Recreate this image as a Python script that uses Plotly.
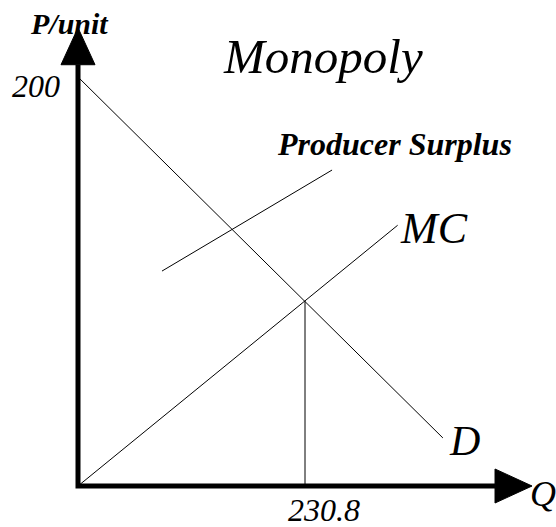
import plotly.graph_objects as go

# demand and marginal cost (Q, P)
demand_q = [0, 371]
demand_p = [200, 23.5]
mc_q = [0, 325]
mc_p = [0, 127.5]

q_star = 230.8
p_star = 90.4

# pointer line for the producer surplus label
ps_q = [85.4, 258.3]
ps_p = [105.1, 154.5]

p_label = 200
q_label = 230.8

# axis extents (data units)
q_axis_end = 424
p_axis_end = 206

W, H = 556, 527
x_rng = [-79.3, 486.0]
y_rng = [-20.05, 237.65]
kx = W / (x_rng[1] - x_rng[0])   # px per Q unit
ky = H / (y_rng[1] - y_rng[0])   # px per P unit


def px(xp, yp):
    # pixel position -> data position
    return x_rng[0] + xp / kx, y_rng[1] - yp / ky


serif = "Liberation Serif, Times New Roman, serif"

fig = go.Figure()

thin = dict(color="black", width=1)
fig.add_trace(go.Scatter(x=demand_q, y=demand_p, mode="lines", line=thin))
fig.add_trace(go.Scatter(x=mc_q, y=mc_p, mode="lines", line=thin))
fig.add_trace(go.Scatter(x=[q_star, q_star], y=[0, p_star], mode="lines", line=thin))
fig.add_trace(go.Scatter(x=ps_q, y=ps_p, mode="lines", line=thin))

# axes
fig.add_trace(go.Scatter(x=[0, 0, q_axis_end], y=[p_axis_end, 0, 0], mode="lines",
                         line=dict(color="black", width=5)))

# arrow heads
head_len, head_half = 37, 17
fig.add_trace(go.Scatter(
    x=[-head_half / kx, head_half / kx, 0, -head_half / kx],
    y=[p_axis_end, p_axis_end, p_axis_end + head_len / ky, p_axis_end],
    mode="lines", fill="toself", fillcolor="black", line=dict(color="black", width=1)))
fig.add_trace(go.Scatter(
    x=[q_axis_end, q_axis_end, q_axis_end + head_len / kx, q_axis_end],
    y=[-head_half / ky, head_half / ky, 0, -head_half / ky],
    mode="lines", fill="toself", fillcolor="black", line=dict(color="black", width=1)))


def label(text, xp, yp, size, bold=False, xanchor="center"):
    x, y = px(xp, yp)
    fig.add_annotation(x=x, y=y, text=text, showarrow=False, xanchor=xanchor, yanchor="middle",
                       font=dict(family=serif, size=size, color="black", style="italic",
                                 weight="bold" if bold else "normal"))


label("Monopoly", 323, 56, 49)
label("Producer Surplus", 394, 144, 32, bold=True)
label("MC", 434, 228, 44)
label("D", 464, 441, 42)
label("Q", 528, 494, 36, xanchor="left")
label(str(q_label), 324, 510, 32)
label(str(p_label), 36, 86, 32)
label("P/unit", 69, 23, 30, bold=True)

fig.update_layout(
    width=W, height=H,
    margin=dict(l=0, r=0, t=0, b=0),
    paper_bgcolor="white", plot_bgcolor="white",
    showlegend=False,
    xaxis=dict(range=x_rng, visible=False, fixedrange=True),
    yaxis=dict(range=y_rng, visible=False, fixedrange=True),
)

# page margin off so the figure sits at the window corner
fig.write_html("out.html", config={"displayModeBar": False},
               post_script="document.body.style.margin='0';document.body.style.overflow='hidden';")
